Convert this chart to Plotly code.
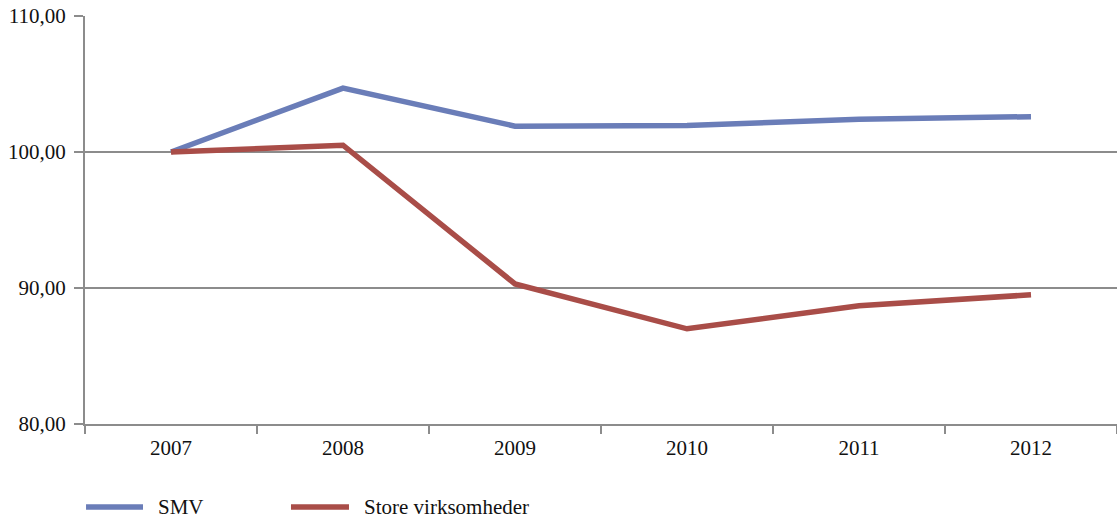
import plotly.graph_objects as go

# Index values (2007 = 100)
years = ["2007", "2008", "2009", "2010", "2011", "2012"]
smv = [100.0, 104.7, 101.9, 101.95, 102.4, 102.6]
store = [100.0, 100.5, 90.3, 87.0, 88.7, 89.5]

series_names = ["SMV", "Store virksomheder"]
series_colors = ["#6a7db8", "#a94d48"]

FONT = "Liberation Serif, Times New Roman, serif"
GRID = "#8c8c8c"
FS = 21

fig = go.Figure()
for name, vals, col in zip(series_names, [smv, store], series_colors):
    fig.add_trace(go.Scatter(
        x=years, y=vals, mode="lines", name=name,
        line=dict(color=col, width=5.5), showlegend=False,
    ))

# Legend drawn as line swatches plus labels below the plot
legend_items = [(0.0010, 0.0562, 0.0688), (0.1996, 0.2558, 0.2684)]
legend_y = -0.2034
for (x0, x1, xt), name, col in zip(legend_items, series_names, series_colors):
    fig.add_shape(type="line", xref="paper", yref="paper",
                  x0=x0, x1=x1, y0=legend_y, y1=legend_y,
                  line=dict(color=col, width=5.5))
    fig.add_annotation(xref="paper", yref="paper", x=xt, y=legend_y,
                       text=name, showarrow=False, xanchor="left",
                       yanchor="middle",
                       font=dict(family=FONT, size=FS, color="#111111"))

fig.update_layout(
    width=1117, height=519,
    margin=dict(l=85, r=0, t=16, b=95),
    paper_bgcolor="white", plot_bgcolor="white",
    separators=", ",
    font=dict(family=FONT, size=FS, color="#111111"),
)
fig.update_xaxes(
    type="category", range=[-0.5, 5.5],
    showline=True, linecolor=GRID, linewidth=2,
    ticks="outside", tickson="boundaries", ticklen=8,
    tickcolor=GRID, tickwidth=2, showgrid=False,
    ticklabelstandoff=4,
    tickfont=dict(family=FONT, size=FS),
)
fig.update_yaxes(
    range=[80, 110], dtick=10, tick0=80, tickformat=".2f",
    showline=True, linecolor=GRID, linewidth=2,
    ticks="outside", ticklen=9, tickcolor=GRID, tickwidth=2,
    showgrid=True, gridcolor=GRID, gridwidth=2, zeroline=False,
    ticklabelstandoff=4,
    tickfont=dict(family=FONT, size=FS),
)

fig.write_html("out.html")
